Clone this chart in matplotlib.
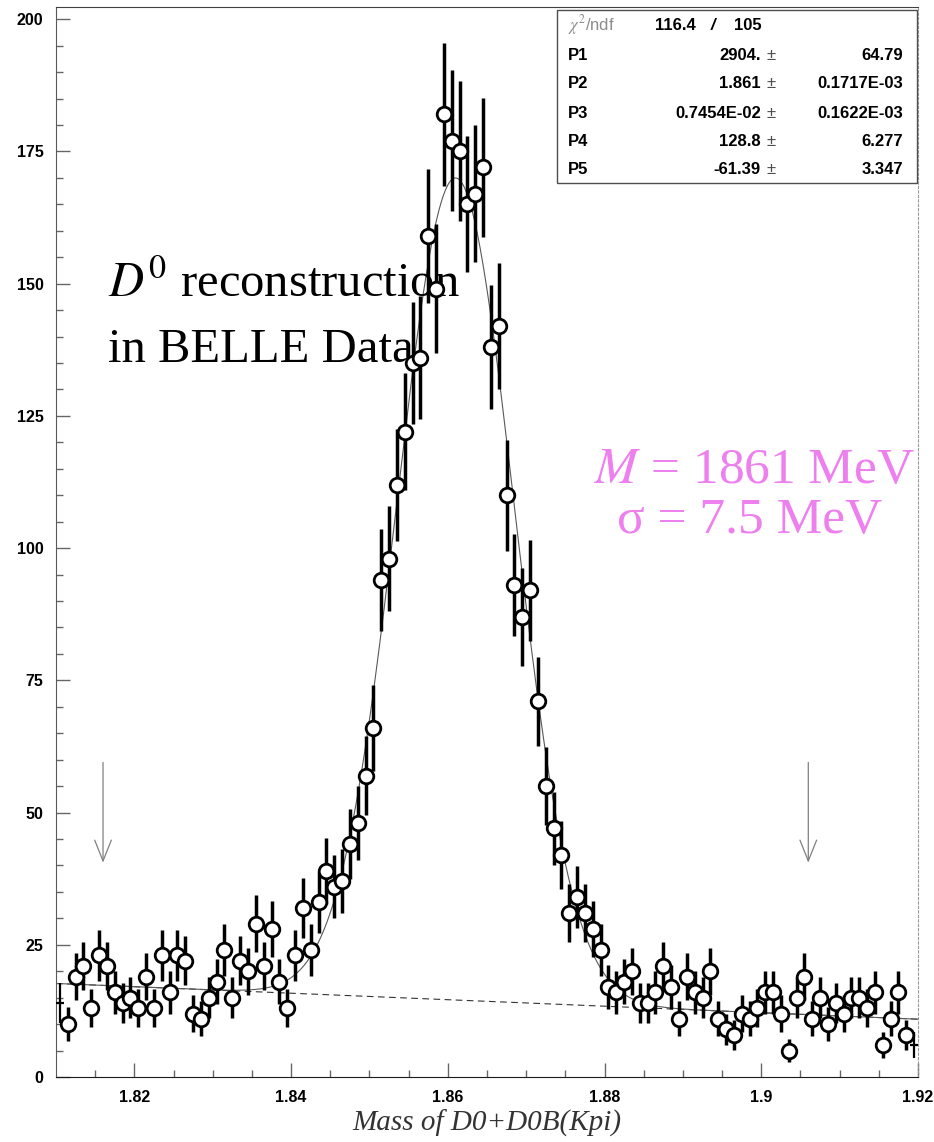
import numpy as np
import matplotlib
matplotlib.use("Agg")
import matplotlib.pyplot as plt
from matplotlib.patches import Rectangle

# histogram of K-pi invariant mass, 110 bins of 1 MeV
mass_lo, mass_hi = 1.81, 1.92
counts = [14, 10, 19, 21, 13, 23, 21, 16, 14, 15,
          13, 19, 13, 23, 16, 23, 22, 12, 11, 15,
          18, 24, 15, 22, 20, 29, 21, 28, 18, 13,
          23, 32, 24, 33, 39, 36, 37, 44, 48, 57,
          66, 94, 98, 112, 122, 135, 136, 159, 149, 182,
          177, 175, 165, 167, 172, 138, 142, 110, 93, 87,
          92, 71, 55, 47, 42, 31, 34, 31, 28, 24,
          17, 16, 18, 20, 14, 14, 16, 21, 17, 11,
          19, 16, 15, 20, 11, 9, 8, 12, 11, 13,
          16, 16, 12, 5, 15, 19, 11, 15, 10, 14,
          12, 15, 15, 13, 16, 6, 11, 16, 8, 6]

# gaussian + linear fit results
par_names = ["P1", "P2", "P3", "P4", "P5"]
par_values = [2904., 1.861, 0.7454e-2, 128.8, -61.39]
par_value_text = ["2904.", "1.861", "0.7454E-02", "128.8", "-61.39"]
par_error_text = ["64.79", "0.1717E-03", "0.1622E-03", "6.277", "3.347"]
chi2_text, ndf_text = "116.4", "105"

# signal window markers
window = [1.816, 1.906]
window_y = [60, 40]

W, H = 934, 1142
fig = plt.figure(figsize=(W / 100, H / 100), dpi=100)
ax = fig.add_axes([56 / W, 65 / H, 862 / W, 1070 / H])

counts = np.array(counts, dtype=float)
nbins = len(counts)
bw = (mass_hi - mass_lo) / nbins
centers = mass_lo + (np.arange(nbins) + 0.5) * bw
errs = np.sqrt(counts)

# data points: open circles with sqrt(N) bars
inner = slice(1, nbins - 1)
ax.errorbar(centers[inner], counts[inner], yerr=errs[inner], fmt="o",
            ms=10.5, mfc="white", mec="black", mew=2.0,
            ecolor="black", elinewidth=2.5, capsize=0, zorder=3)
for i in (0, nbins - 1):
    ax.errorbar(centers[i], counts[i], yerr=errs[i], xerr=bw / 2, fmt="none",
                ecolor="black", elinewidth=1.6, capsize=0, zorder=3)

# fit curves
p1, p2, p3, p4, p5 = par_values
xs = np.linspace(mass_lo, mass_hi, 800)
bkg = p4 + p5 * xs
sig = p1 * bw / (np.sqrt(2 * np.pi) * p3) * np.exp(-0.5 * ((xs - p2) / p3) ** 2)
ax.plot(xs, bkg, ls=(0, (6, 4)), color="0.2", lw=0.8, zorder=2)
ax.plot(xs, sig + bkg, color="0.35", lw=0.8, zorder=2)

for xw in window:
    ax.annotate("", xy=(xw, window_y[1]), xytext=(xw, window_y[0]),
                arrowprops=dict(arrowstyle="->,head_length=0.75,head_width=0.3",
                                mutation_scale=20, color="0.5", lw=0.9))

ax.set_xlim(mass_lo, mass_hi)
ax.set_ylim(0, 202.3)
ax.set_xticks([1.82, 1.84, 1.86, 1.88, 1.90, 1.92])
ax.set_xticklabels(["1.82", "1.84", "1.86", "1.88", "1.9", "1.92"])
ax.set_xticks(np.arange(1.815, 1.92, 0.005), minor=True)
ax.set_yticks(np.arange(0, 201, 25))
ax.set_yticks(np.arange(0, 201, 5), minor=True)
ax.tick_params(which="both", direction="in", top=False, right=False,
               color="0.4", width=1.0)
ax.tick_params(which="major", length=10, pad=9)
ax.tick_params(which="minor", length=5)
for lab in ax.get_xticklabels() + ax.get_yticklabels():
    lab.set_fontfamily("Liberation Sans")
    lab.set_fontweight("bold")
    lab.set_fontsize(11.5)

ax.spines["right"].set_color("0.6")
ax.spines["right"].set_linestyle((0, (2, 2)))
ax.spines["left"].set_color("0.35")
ax.spines["top"].set_color("0.25")
ax.spines["bottom"].set_color("0.1")

ax.set_xlabel("Mass of D0+D0B(Kpi)", family="Liberation Serif", style="italic",
              fontsize=21, color="0.2", labelpad=4)

plt.rcParams["mathtext.fontset"] = "stix"
ax.text(0.06, 0.729, r"$D^{0}$ reconstruction", transform=ax.transAxes,
        family="Liberation Serif", fontsize=35, va="baseline")
ax.text(0.06, 0.668, "in BELLE Data", transform=ax.transAxes,
        family="Liberation Serif", fontsize=35, va="baseline")

pink = "#ee7fee"
ax.text(0.81, 0.555, r"$M$ = 1861 MeV", transform=ax.transAxes, ha="center",
        family="Liberation Serif", fontsize=37, color=pink, va="baseline")
ax.text(0.805, 0.508, "\u03c3 = 7.5 MeV", transform=ax.transAxes, ha="center",
        family="Liberation Serif", fontsize=37, color=pink, va="baseline")

# statistics box in pixel coordinates
def fx(px):
    return px / W

def fy(py):
    return 1 - py / H

fig.patches.append(Rectangle((fx(557), fy(183)), fx(917) - fx(557), fy(10) - fy(183),
                             transform=fig.transFigure, facecolor="white",
                             edgecolor="0.3", lw=1.0, zorder=5))
stat_font = dict(family="Liberation Sans", fontsize=12, va="center",
                 fontweight="bold", zorder=6)
fig.text(fx(568), fy(25), r"$\chi^2$/ndf", color="0.55",
         **{**stat_font, "fontweight": "normal"})
fig.text(fx(696), fy(25), chi2_text, ha="right", **stat_font)
fig.text(fx(713), fy(25), "/", ha="center", style="italic", **stat_font)
fig.text(fx(762), fy(25), ndf_text, ha="right", **stat_font)
row_y = [55, 84, 113, 142, 170]
for name, val, err, yy in zip(par_names, par_value_text, par_error_text, row_y):
    fig.text(fx(568), fy(yy), name, **stat_font)
    fig.text(fx(761), fy(yy), val, ha="right", **stat_font)
    fig.text(fx(771), fy(yy), "\u00b1", ha="center", color="0.3",
             **{**stat_font, "fontweight": "normal"})
    fig.text(fx(903), fy(yy), err, ha="right", **stat_font)

fig.savefig("out.png", dpi=100)
